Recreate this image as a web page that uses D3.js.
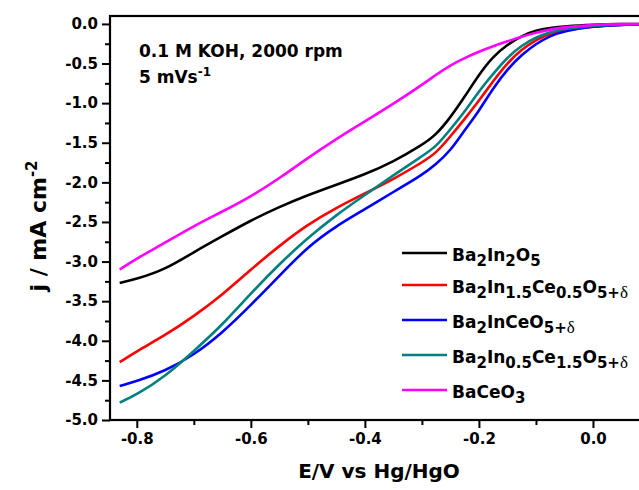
<!DOCTYPE html>
<html>
<head>
<meta charset="utf-8">
<script src="https://cdn.jsdelivr.net/npm/d3@7"></script>
<style>
  html, body { margin: 0; padding: 0; background: #fff; }
  svg { display: block; }
  text { font-family: "DejaVu Sans", sans-serif; font-weight: bold; fill: #000; }
</style>
</head>
<body>
<svg id="chart" width="639" height="490"></svg>
<script>
// ---- data ----
const potential = [-0.83,-0.8,-0.75,-0.7,-0.65,-0.6,-0.55,-0.5,-0.45,-0.4,-0.35,-0.3,-0.275,-0.25,-0.225,-0.2,-0.175,-0.15,-0.125,-0.1,-0.075,-0.05,0,0.05,0.1];
const jBa2In2O5   = [-3.27,-3.22,-3.10,-2.88,-2.68,-2.48,-2.31,-2.16,-2.03,-1.90,-1.74,-1.53,-1.40,-1.18,-0.92,-0.64,-0.41,-0.26,-0.15,-0.08,-0.05,-0.03,-0.01,0,0];
const jIn15Ce05   = [-4.27,-4.13,-3.93,-3.69,-3.42,-3.10,-2.80,-2.53,-2.32,-2.14,-1.96,-1.75,-1.63,-1.42,-1.20,-0.97,-0.72,-0.49,-0.32,-0.20,-0.12,-0.08,-0.03,-0.01,0];
const jInCe       = [-4.57,-4.51,-4.38,-4.18,-3.90,-3.55,-3.18,-2.81,-2.55,-2.34,-2.12,-1.91,-1.77,-1.60,-1.34,-1.10,-0.81,-0.57,-0.39,-0.25,-0.15,-0.09,-0.03,-0.01,0];
const jIn05Ce15   = [-4.78,-4.68,-4.45,-4.13,-3.80,-3.40,-3.03,-2.70,-2.41,-2.16,-1.91,-1.67,-1.55,-1.33,-1.11,-0.85,-0.63,-0.42,-0.27,-0.17,-0.10,-0.06,-0.02,-0.01,0];
const jBaCeO3     = [-3.10,-2.96,-2.76,-2.55,-2.37,-2.18,-1.95,-1.69,-1.45,-1.23,-1.01,-0.77,-0.64,-0.52,-0.43,-0.35,-0.28,-0.22,-0.16,-0.11,-0.07,-0.04,-0.01,0,0];

const seriesColors = ["#000000", "#ff0000", "#0000ff", "#008080", "#ff00ff"];
// legend labels as [text, isSubscript]
const seriesLabels = [
  [["Ba",0],["2",1],["In",0],["2",1],["O",0],["5",1]],
  [["Ba",0],["2",1],["In",0],["1.5",1],["Ce",0],["0.5",1],["O",0],["5+",1],["δ",2]],
  [["Ba",0],["2",1],["InCeO",0],["5+",1],["δ",2]],
  [["Ba",0],["2",1],["In",0],["0.5",1],["Ce",0],["1.5",1],["O",0],["5+",1],["δ",2]],
  [["BaCeO",0],["3",1]]
];
const seriesValues = [jBa2In2O5, jIn15Ce05, jInCe, jIn05Ce15, jBaCeO3];

const xMajorTicks = [-0.8, -0.6, -0.4, -0.2, 0.0];
const xMinorTicks = [-0.7, -0.5, -0.3, -0.1];
const yMajorTicks = [0,-0.5,-1,-1.5,-2,-2.5,-3,-3.5,-4,-4.5,-5];
const yMinorTicks = [-0.25,-0.75,-1.25,-1.75,-2.25,-2.75,-3.25,-3.75,-4.25,-4.75];

// ---- layout ----
const svg = d3.select("#chart");
const x = d3.scaleLinear().domain([-0.847, 0.1]).range([110, 650]);
const y = d3.scaleLinear().domain([-5, 0.1]).range([420, 16]);
const fmt = d => d.toFixed(1);

// clip
svg.append("defs").append("clipPath").attr("id", "plotclip")
  .append("rect").attr("x", x(-0.847)).attr("y", y(0.1))
  .attr("width", x(0.1) - x(-0.847)).attr("height", y(-5) - y(0.1));

// curves
const line = d3.line().x(d => x(d[0])).y(d => y(d[1])).curve(d3.curveBasis);
const gLines = svg.append("g").attr("clip-path", "url(#plotclip)");
seriesValues.forEach((vals, i) => {
  gLines.append("path")
    .datum(potential.map((e, k) => [e, vals[k]]))
    .attr("d", line)
    .attr("fill", "none")
    .attr("stroke", seriesColors[i])
    .attr("stroke-width", 2.6)
    .attr("stroke-linejoin", "round");
});

// axes
function styleAxis(g) {
  g.select(".domain").remove();
  g.selectAll(".tick line").attr("stroke", "#000").attr("stroke-width", 2);
  g.selectAll(".tick text").style("font-family", "'DejaVu Sans', sans-serif")
    .style("font-weight", "bold").style("font-size", "15px").attr("fill", "#000");
}
svg.append("g").attr("transform", `translate(0,${y(-5)})`)
  .call(d3.axisBottom(x).tickValues(xMajorTicks).tickFormat(fmt).tickSize(8).tickPadding(5))
  .call(styleAxis);
svg.append("g").attr("transform", `translate(0,${y(-5)})`)
  .call(d3.axisBottom(x).tickValues(xMinorTicks).tickFormat("").tickSize(5))
  .call(styleAxis);
svg.append("g").attr("transform", `translate(${x(-0.847)},0)`)
  .call(d3.axisLeft(y).tickValues(yMajorTicks).tickFormat(fmt).tickSize(8).tickPadding(4))
  .call(styleAxis);
svg.append("g").attr("transform", `translate(${x(-0.847)},0)`)
  .call(d3.axisLeft(y).tickValues(yMinorTicks).tickFormat("").tickSize(5))
  .call(styleAxis);

// frame
svg.append("rect")
  .attr("x", x(-0.847)).attr("y", y(0.1))
  .attr("width", x(0.1) - x(-0.847)).attr("height", y(-5) - y(0.1))
  .attr("fill", "none").attr("stroke", "#000").attr("stroke-width", 2.2);

// axis titles
svg.append("text").attr("x", 379).attr("y", 478).attr("text-anchor", "middle")
  .style("font-size", "20px").text("E/V vs Hg/HgO");
const yt = svg.append("text").attr("transform", "translate(46,226) rotate(-90)")
  .attr("text-anchor", "middle").style("font-size", "22px");
yt.append("tspan").text("j / mA cm");
yt.append("tspan").attr("dy", -9).style("font-size", "15px").text("-2");

// annotation
svg.append("text").attr("x", 139).attr("y", 57).style("font-size", "17px").text("0.1 M KOH, 2000 rpm");
const an = svg.append("text").attr("x", 139).attr("y", 83).style("font-size", "17px");
an.append("tspan").text("5 mVs");
an.append("tspan").attr("dy", -7).style("font-size", "12px").text("-1");

// legend
const legendRows = [253, 285, 320, 355, 390];
seriesLabels.forEach((segs, i) => {
  const ly = legendRows[i];
  svg.append("line").attr("x1", 402).attr("x2", 447).attr("y1", ly).attr("y2", ly)
    .attr("stroke", seriesColors[i]).attr("stroke-width", 2.6);
  const t = svg.append("text").attr("x", 452).attr("y", ly + 8).style("font-size", "17px");
  let sub = false;
  segs.forEach(([s, kind]) => {
    const isSub = kind > 0;
    const ts = t.append("tspan").text(s);
    if (isSub && !sub) { ts.attr("dy", 5); }
    if (!isSub && sub) { ts.attr("dy", -5); }
    ts.style("font-size", isSub ? "15px" : "17px");
    if (kind === 2) {
      ts.style("font-family", "'Liberation Serif', serif").style("font-weight", "normal")
        .style("font-size", "17px");
    }
    sub = isSub;
  });
});
</script>
</body>
</html>
